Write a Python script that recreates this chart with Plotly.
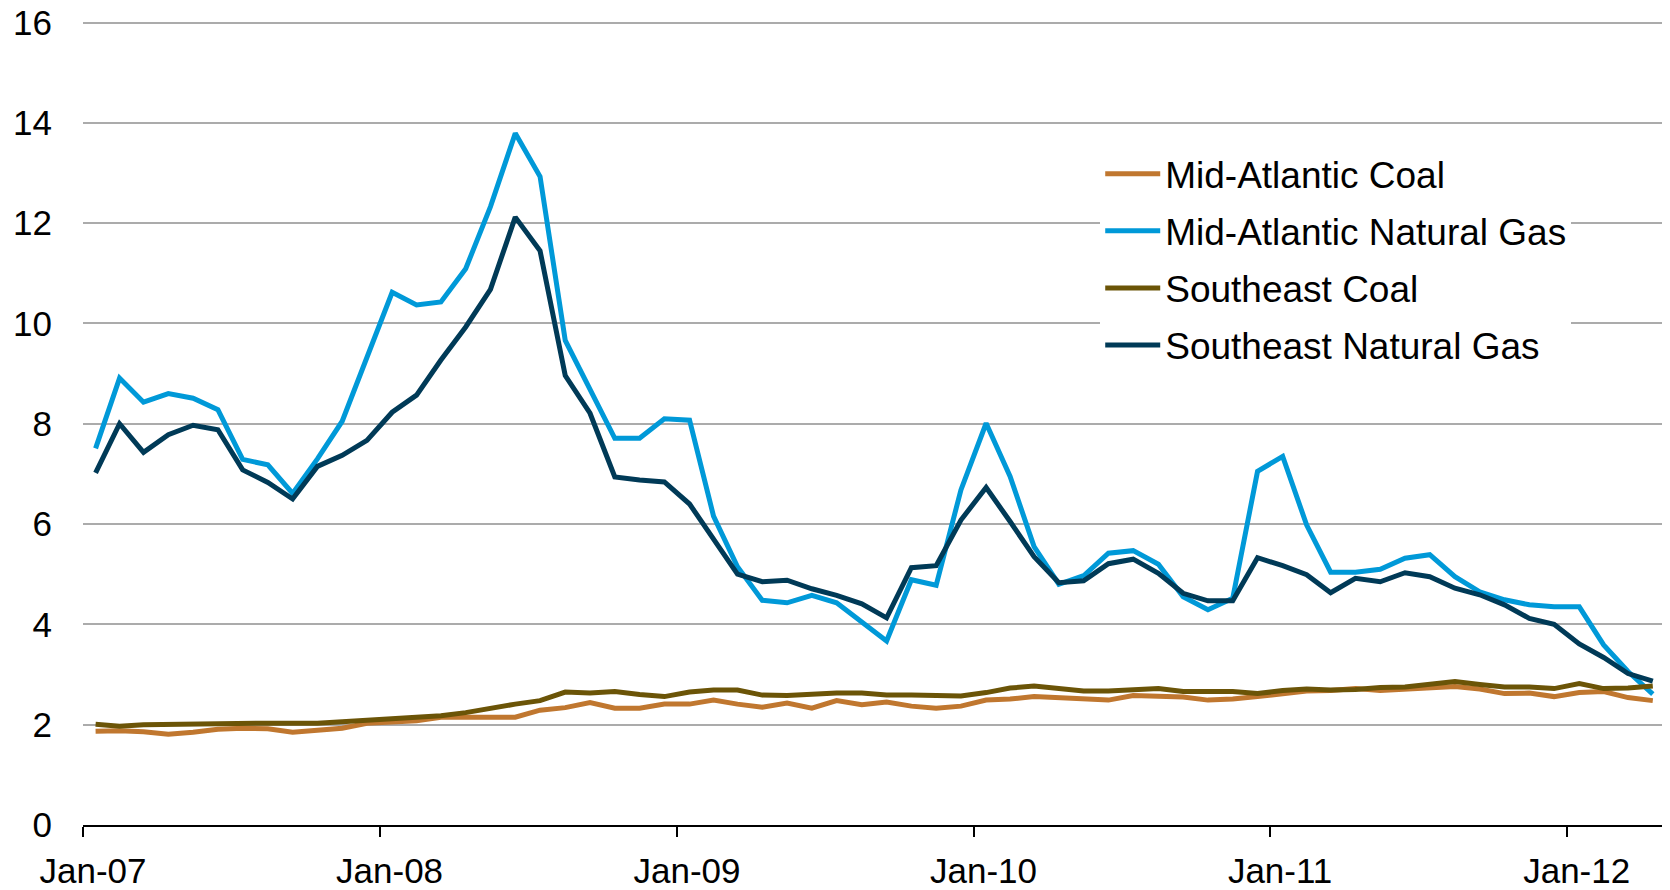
import pandas as pd
import plotly.graph_objects as go

# Monthly categories Jan-2007 .. Apr-2012
month_starts = pd.date_range("2007-01-01", periods=65, freq="MS")
months = month_starts[:-1] + (month_starts[1:] - month_starts[:-1]) / 2

ma_coal = [1.87, 1.88, 1.86, 1.81, 1.85, 1.91, 1.93, 1.92, 1.85, 1.90, 1.93, 2.03,
           2.05, 2.08, 2.15, 2.15, 2.17, 2.15, 2.29, 2.34, 2.44, 2.33, 2.33, 2.41,
           2.41, 2.49, 2.41, 2.35, 2.43, 2.33, 2.48, 2.40, 2.45, 2.37, 2.33, 2.37,
           2.49, 2.51, 2.56, 2.54, 2.51, 2.49, 2.58, 2.57, 2.55, 2.49, 2.51, 2.56,
           2.62, 2.67, 2.68, 2.72, 2.68, 2.71, 2.74, 2.76, 2.71, 2.62, 2.63, 2.56,
           2.64, 2.66, 2.54, 2.48]
ma_gas = [7.51, 8.91, 8.43, 8.60, 8.51, 8.28, 7.29, 7.18, 6.61, 7.30, 8.05, 9.33,
          10.62, 10.37, 10.43, 11.09, 12.33, 13.79, 12.93, 9.66, 8.68, 7.71, 7.71, 8.10,
          8.07, 6.16, 5.15, 4.48, 4.43, 4.58, 4.43, 4.05, 3.67, 4.89, 4.78, 6.68,
          8.01, 6.95, 5.55, 4.80, 4.97, 5.42, 5.47, 5.20, 4.55, 4.29, 4.52, 7.05,
          7.35, 5.98, 5.04, 5.04, 5.10, 5.32, 5.39, 4.95, 4.65, 4.49, 4.39, 4.35,
          4.35, 3.59, 3.06, 2.61]
se_coal = [2.01, 1.97, 2.00, 2.01, 2.01, 2.03, 2.04, 2.03, 2.03, 2.03, 2.06, 2.09,
           2.12, 2.13, 2.18, 2.24, 2.33, 2.41, 2.48, 2.65, 2.63, 2.66, 2.60, 2.56,
           2.65, 2.69, 2.69, 2.59, 2.58, 2.61, 2.63, 2.63, 2.59, 2.59, 2.57, 2.57,
           2.64, 2.73, 2.77, 2.73, 2.67, 2.67, 2.69, 2.72, 2.66, 2.66, 2.66, 2.62,
           2.68, 2.71, 2.69, 2.70, 2.74, 2.75, 2.81, 2.86, 2.80, 2.75, 2.75, 2.72,
           2.82, 2.72, 2.73, 2.77]
se_gas = [7.02, 8.00, 7.43, 7.78, 7.97, 7.88, 7.08, 6.83, 6.50, 7.15, 7.37, 7.67,
          8.23, 8.57, 9.27, 9.93, 10.68, 12.12, 11.45, 8.96, 8.21, 6.94, 6.88, 6.84,
          6.40, 5.69, 5.00, 4.85, 4.88, 4.71, 4.58, 4.41, 4.13, 5.13, 5.17, 6.08,
          6.73, 6.05, 5.35, 4.83, 4.87, 5.21, 5.30, 5.02, 4.62, 4.47, 4.47, 5.33,
          5.17, 4.99, 4.63, 4.92, 4.85, 5.03, 4.95, 4.72, 4.59, 4.39, 4.12, 4.00,
          3.61, 3.34, 3.02, 2.87]

series = [
    ("Mid-Atlantic Coal", ma_coal, "#C0772F"),
    ("Mid-Atlantic Natural Gas", ma_gas, "#0099D8"),
    ("Southeast Coal", se_coal, "#6B5407"),
    ("Southeast Natural Gas", se_gas, "#003A57"),
]

FONT = "Liberation Sans, Arial, sans-serif"

fig = go.Figure()
for i, (name, vals, color) in enumerate(series):
    fig.add_trace(go.Scatter(x=months, y=vals, name=name, mode="lines",
                             line=dict(color=color, width=5),
                             legendgroup=f"g{i}"))

fig.update_layout(
    width=1662, height=882,
    margin=dict(l=75, r=5, t=12, b=64.5),
    paper_bgcolor="white", plot_bgcolor="white",
    font=dict(family=FONT, size=35, color="black"),
    showlegend=True,
    legend=dict(x=0.643, y=0.847, xanchor="left", yanchor="top",
                bgcolor="white", font=dict(size=37, family=FONT),
                tracegroupgap=6, itemwidth=55, traceorder="grouped"),
    xaxis=dict(range=["2007-01-01", "2012-05-01"], type="date", automargin=False,
               tick0="2007-01-01", dtick="M12", tickformat="%b-%y",
               showgrid=False, showline=True, linecolor="black", linewidth=2,
               ticks="outside", ticklen=10, tickwidth=2, tickcolor="black",
               ticklabelshift=10, ticklabelstandoff=4, ticklabeloverflow="allow",
               tickfont=dict(size=35, family=FONT)),
    yaxis=dict(range=[0, 16.05], tick0=0, dtick=2, showgrid=True, gridcolor="#ABABAB",
               gridwidth=2, zeroline=False, showline=False, ticks="", automargin=False,
               ticklabelstandoff=30, ticklabeloverflow="allow",
               tickfont=dict(size=35, family=FONT)),
)

fig.write_html("out.html")
